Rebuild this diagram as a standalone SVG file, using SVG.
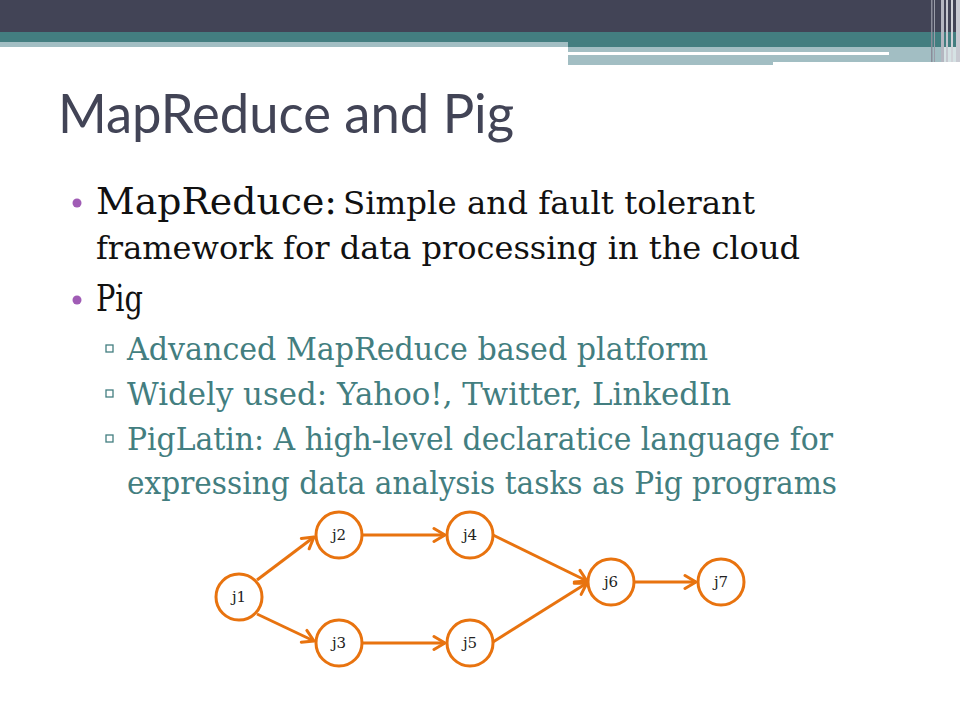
<svg xmlns="http://www.w3.org/2000/svg" width="960" height="720" viewBox="0 0 960 720">
<defs>
<style>
.title{font-family:"Lato","Open Sans","DejaVu Sans",sans-serif;font-size:54px;fill:#424456}
.main{font-family:"DejaVu Serif","Liberation Serif",serif;fill:#111}
.sub{font-family:"DejaVu Serif","Liberation Serif",serif;font-size:31px;fill:#437E80}
.node circle{fill:#fff;stroke:#E8730F;stroke-width:3}
.node text{font-family:"DejaVu Serif","Liberation Serif",serif;font-size:15px;fill:#222;text-anchor:middle}
.edge{stroke:#E8730F;stroke-width:3;fill:none;marker-end:url(#arr)}
.sq{fill:none;stroke:#437E80;stroke-width:1.3}
</style>
<marker id="arr" markerUnits="userSpaceOnUse" markerWidth="16" markerHeight="18" refX="13" refY="8" orient="auto" viewBox="0 0 16 16">
<path d="M2,1.5 L13,8 L2,14.5" fill="none" stroke="#E8730F" stroke-width="3" stroke-linecap="round" stroke-linejoin="round"/>
</marker>
</defs>
<rect width="960" height="720" fill="#fff"/>
<g id="header">
<rect x="0" y="0" width="960" height="32" fill="#424456"/>
<rect x="0" y="32" width="960" height="10" fill="#437E80"/>
<rect x="568" y="42" width="392" height="5" fill="#437E80"/>
<rect x="0" y="42" width="568" height="5" fill="#A2BEC3"/>
<rect x="568" y="47" width="375" height="15" fill="#A2BEC3"/>
<rect x="568" y="52" width="321" height="3" fill="#fff"/>
<rect x="568" y="62" width="205" height="3" fill="#A2BEC3"/>
<rect x="943" y="47" width="17" height="15" fill="#D5E2E4"/>
<rect x="931" y="0" width="1.5" height="62" fill="#8A8C99"/>
<rect x="934" y="0" width="1" height="62" fill="#9A9CA8"/>
<rect x="941" y="0" width="3" height="62" fill="#B4B6C0"/>
<rect x="946" y="0" width="2" height="62" fill="#C4C6CE"/>
<rect x="951" y="0" width="2" height="62" fill="#D0D2D8"/>
<rect x="956" y="0" width="4" height="62" fill="#C8CAD2"/>
</g>
<text class="title" x="58" y="133" textLength="456" lengthAdjust="spacingAndGlyphs">MapReduce and Pig</text>
<g id="bullets">
<circle cx="77" cy="203" r="4.5" fill="#A05CB5"/>
<text class="main" x="96" y="214" font-size="37" textLength="241" lengthAdjust="spacingAndGlyphs">MapReduce:</text>
<text class="main" x="343" y="214" font-size="31" textLength="412" lengthAdjust="spacingAndGlyphs">Simple and fault tolerant</text>
<text class="main" x="96" y="259" font-size="31" textLength="704" lengthAdjust="spacingAndGlyphs">framework for data processing in the cloud</text>
<circle cx="77" cy="300" r="4.5" fill="#A05CB5"/>
<text class="main" x="96" y="311" font-size="37" textLength="47" lengthAdjust="spacingAndGlyphs">Pig</text>
<rect class="sq" x="106" y="345" width="7" height="7"/>
<text class="sub" x="127" y="360" textLength="581" lengthAdjust="spacingAndGlyphs">Advanced MapReduce based platform</text>
<rect class="sq" x="106" y="390" width="7" height="7"/>
<text class="sub" x="127" y="405" textLength="604" lengthAdjust="spacingAndGlyphs">Widely used: Yahoo!, Twitter, LinkedIn</text>
<rect class="sq" x="106" y="435" width="7" height="7"/>
<text class="sub" x="127" y="450" textLength="706" lengthAdjust="spacingAndGlyphs">PigLatin: A high-level declaratice language for</text>
<text class="sub" x="127" y="494" textLength="710" lengthAdjust="spacingAndGlyphs">expressing data analysis tasks as Pig programs</text>
</g>
<g id="connectors">
<line class="edge" x1="257" y1="580" x2="314" y2="537"/>
<line class="edge" x1="257" y1="614" x2="314" y2="641"/>
<line class="edge" x1="362" y1="535" x2="445" y2="535"/>
<line class="edge" x1="362" y1="643" x2="445" y2="643"/>
<line class="edge" x1="493" y1="535" x2="587" y2="581"/>
<line class="edge" x1="493" y1="642" x2="587" y2="583"/>
<line class="edge" x1="635" y1="582" x2="696" y2="582"/>
</g>
<g id="j1" class="node"><circle cx="239" cy="597" r="23"/><text x="239" y="602">j1</text></g>
<g id="j2" class="node"><circle cx="339" cy="535" r="23"/><text x="339" y="540">j2</text></g>
<g id="j3" class="node"><circle cx="339" cy="643" r="23"/><text x="339" y="648">j3</text></g>
<g id="j4" class="node"><circle cx="470" cy="535" r="23"/><text x="470" y="540">j4</text></g>
<g id="j5" class="node"><circle cx="470" cy="643" r="23"/><text x="470" y="648">j5</text></g>
<g id="j6" class="node"><circle cx="611" cy="582" r="23"/><text x="611" y="587">j6</text></g>
<g id="j7" class="node"><circle cx="721" cy="582" r="23"/><text x="721" y="587">j7</text></g>
</svg>
